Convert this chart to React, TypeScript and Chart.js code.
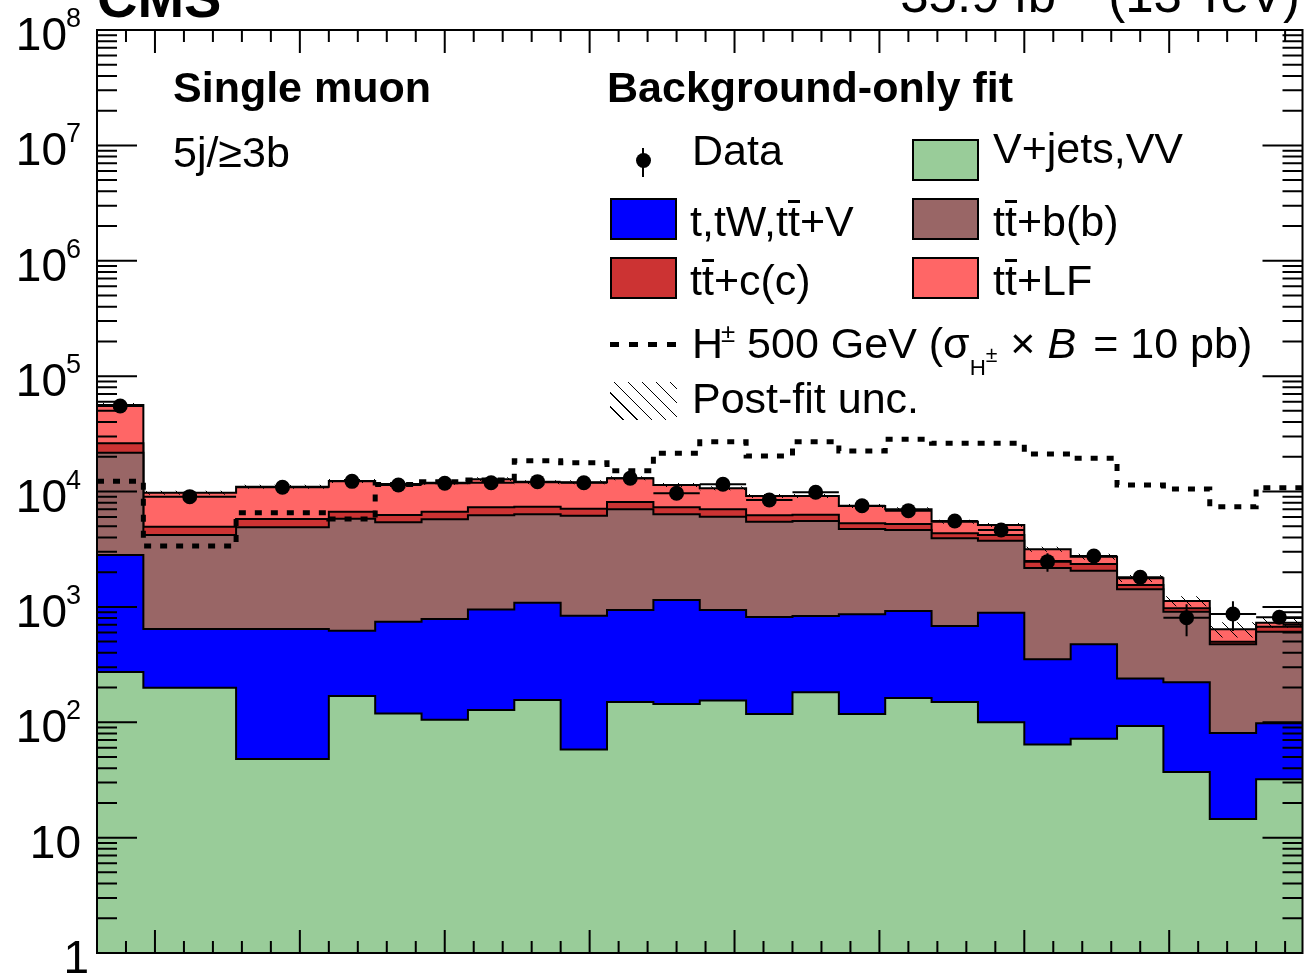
import React, { useEffect, useRef } from 'react';
import { Chart, registerables } from 'chart.js';

Chart.register(...registerables);

const FONT = '"Liberation Sans", Arial, Helvetica, sans-serif';

// ---------------- data ----------------
const binEdges = [160, 192, 256, 320, 352, 384, 416, 448, 480, 512, 544, 576, 608, 640, 672, 704, 736, 768, 800, 832, 864, 896, 928, 960, 992];

const vJetsVV = [272, 199, 48, 169, 119, 105, 128, 156, 58, 150, 144, 154, 118, 182, 118, 162, 150, 100, 64, 72, 93, 37, 14.5, 32];
const singleTop = [2545, 444, 595, 452, 625, 680, 822, 931, 781, 790, 1003, 786, 699, 652, 744, 758, 533, 790, 288, 402, 147, 185, 66, 66];
const ttbb = [18880, 3555, 4252, 5189, 4666, 4955, 5290, 5253, 5331, 6070, 5193, 5110, 4653, 4716, 3868, 3710, 3247, 2858, 1822, 1585, 1180, 686, 394, 511];
const ttcc = [4460, 757, 882, 873, 843, 943, 1055, 1045, 930, 1100, 955, 960, 750, 746, 570, 597, 411, 450, 325, 293, 127, 64, 25, 64];
const ttlf = [30040, 4807, 5228, 5652, 5363, 5240, 5460, 4629, 4914, 4903, 4089, 3650, 2922, 2846, 2188, 1783, 1131, 927, 657, 371, 221, 153, 140, 56];

const dataCounts = [55100, 9020, 10870, 12250, 11380, 11780, 11920, 12170, 11920, 13010, 9650, 11545, 8440, 9840, 7530, 6820, 5550, 4640, 2465, 2760, 1804, 806, 867, 812];
const dataErrors = [900, 300, 330, 350, 340, 345, 345, 350, 345, 365, 310, 340, 290, 315, 275, 260, 235, 215, 450, 300, 200, 250, 250, 100];

const hplus500 = [12300, 3370, 6550, 5780, 11500, 12160, 12580, 18490, 17770, 15140, 21430, 27030, 20320, 27030, 22440, 28330, 26160, 26160, 21130, 19400, 11390, 10510, 7390, 10790];

const postFitRelUnc = [0.04, 0.04, 0.04, 0.04, 0.04, 0.04, 0.04, 0.04, 0.04, 0.04, 0.04, 0.04, 0.04, 0.04, 0.04, 0.04, 0.04, 0.04, 0.05, 0.06, 0.07, 0.1, 0.15, 0.1];

const yExponents = [0, 1, 2, 3, 4, 5, 6, 7, 8];
const yMinorMultipliers = [2, 3, 4, 5, 6, 7, 8, 9];
const xMajorTicks = [200, 300, 400, 500, 600, 700, 800, 900];
const xMinorTicks = [180, 220, 240, 260, 280, 320, 340, 360, 380, 420, 440, 460, 480, 520, 540, 560, 580, 620, 640, 660, 680, 720, 740, 760, 780, 820, 840, 860, 880, 920, 940, 960, 980];

// ---------------- helpers ----------------
function stepSeries(values: number[]) {
  const pts = values.map((v, i) => ({ x: binEdges[i], y: v }));
  pts.push({ x: binEdges[binEdges.length - 1], y: values[values.length - 1] });
  return pts;
}
function cumulate(...arrs: number[][]) {
  return arrs[0].map((_, i) => arrs.reduce((s, a) => s + a[i], 0));
}

const cumV = cumulate(vJetsVV);
const cumT = cumulate(vJetsVV, singleTop);
const cumB = cumulate(vJetsVV, singleTop, ttbb);
const cumC = cumulate(vJetsVV, singleTop, ttbb, ttcc);
const total = cumulate(vJetsVV, singleTop, ttbb, ttcc, ttlf);
const uncUp = total.map((t, i) => t * (1 + postFitRelUnc[i]));
const uncDown = total.map((t, i) => t * (1 - postFitRelUnc[i]));
const binCenters = dataCounts.map((_, i) => (binEdges[i] + binEdges[i + 1]) / 2);

function makeHatch(): CanvasPattern | string {
  const c = document.createElement('canvas');
  const s = 15;
  c.width = s;
  c.height = s;
  const g = c.getContext('2d');
  if (!g) return 'rgba(0,0,0,0)';
  g.strokeStyle = '#000';
  g.lineWidth = 1;
  g.beginPath();
  g.moveTo(-1, -1);
  g.lineTo(s + 1, s + 1);
  g.moveTo(s - 1, -1);
  g.lineTo(s + 1, 1);
  g.moveTo(-1, s - 1);
  g.lineTo(1, s + 1);
  g.stroke();
  return g.createPattern(c, 'repeat') || 'rgba(0,0,0,0)';
}

const rootAxesPlugin = {
  id: 'rootAxes',
  afterDatasetsDraw(chart: any) {
    const { ctx, chartArea: a, scales } = chart;
    const xs = scales.x;
    const ys = scales.y;
    ctx.save();
    ctx.strokeStyle = '#000';
    ctx.lineWidth = 2;
    // data error bars
    dataCounts.forEach((v, i) => {
      const x0 = xs.getPixelForValue(binEdges[i]);
      const x1 = xs.getPixelForValue(binEdges[i + 1]);
      const cx = xs.getPixelForValue(binCenters[i]);
      const py = ys.getPixelForValue(v);
      ctx.beginPath();
      ctx.moveTo(x0, py);
      ctx.lineTo(x1, py);
      ctx.moveTo(cx, ys.getPixelForValue(v + dataErrors[i]));
      ctx.lineTo(cx, ys.getPixelForValue(v - dataErrors[i]));
      ctx.stroke();
    });
    // frame
    ctx.strokeRect(a.left, a.top, a.right - a.left, a.bottom - a.top);
    // y ticks
    ctx.beginPath();
    yExponents.forEach((e) => {
      const base = Math.pow(10, e);
      const py = ys.getPixelForValue(base);
      ctx.moveTo(a.left, py);
      ctx.lineTo(a.left + 40, py);
      ctx.moveTo(a.right - 40, py);
      ctx.lineTo(a.right, py);
      if (e < 8) {
        yMinorMultipliers.forEach((m) => {
          const pm = ys.getPixelForValue(m * base);
          ctx.moveTo(a.left, pm);
          ctx.lineTo(a.left + 20, pm);
          ctx.moveTo(a.right - 20, pm);
          ctx.lineTo(a.right, pm);
        });
      }
    });
    // x ticks
    xMajorTicks.forEach((t) => {
      const px = xs.getPixelForValue(t);
      ctx.moveTo(px, a.bottom);
      ctx.lineTo(px, a.bottom - 23);
      ctx.moveTo(px, a.top);
      ctx.lineTo(px, a.top + 23);
    });
    xMinorTicks.forEach((t) => {
      const px = xs.getPixelForValue(t);
      ctx.moveTo(px, a.bottom);
      ctx.lineTo(px, a.bottom - 12);
      ctx.moveTo(px, a.top);
      ctx.lineTo(px, a.top + 12);
    });
    ctx.stroke();
    // y labels
    ctx.fillStyle = '#000';
    ctx.textBaseline = 'alphabetic';
    const right = 81;
    yExponents.forEach((e) => {
      const py = ys.getPixelForValue(Math.pow(10, e));
      if (e === 0) {
        ctx.font = `46px ${FONT}`;
        ctx.textAlign = 'right';
        ctx.fillText('1', right + 8, py + 20);
      } else if (e === 1) {
        ctx.font = `46px ${FONT}`;
        ctx.textAlign = 'right';
        ctx.fillText('10', right, py + 20);
      } else {
        ctx.font = `27px ${FONT}`;
        const w = ctx.measureText(String(e)).width;
        ctx.textAlign = 'left';
        ctx.fillText(String(e), right - w, py - 3);
        ctx.font = `46px ${FONT}`;
        ctx.textAlign = 'right';
        ctx.fillText('10', right - w + 1, py + 20);
      }
    });
    ctx.restore();
  },
};

// ---------------- overlay text ----------------
type TxtProps = { x: number; base: number; size?: number; bold?: boolean; right?: boolean; children: React.ReactNode };
function Txt({ x, base, size = 43, bold = false, right = false, children }: TxtProps) {
  const style: React.CSSProperties = {
    position: 'absolute',
    top: base - 0.8465 * size,
    fontSize: size,
    lineHeight: 1,
    fontWeight: bold ? 'bold' : 'normal',
    whiteSpace: 'nowrap',
    color: '#000',
    fontFamily: FONT,
  };
  if (right) style.right = 1304 - x;
  else style.left = x;
  return <div style={style}>{children}</div>;
}

function TBar() {
  return (
    <span style={{ position: 'relative', display: 'inline-block' }}>
      t
      <span style={{ position: 'absolute', left: '0.01em', width: '0.26em', top: '0.02em', height: '0.065em', background: '#000' }} />
    </span>
  );
}

function Box({ x, y, color }: { x: number; y: number; color: string }) {
  return (
    <div
      style={{
        position: 'absolute',
        left: x,
        top: y,
        width: 67,
        height: 42,
        boxSizing: 'border-box',
        border: '2px solid #000',
        background: color,
      }}
    />
  );
}

const colors = {
  vjets: '#99cc99',
  single: '#0000ff',
  ttbb: '#996666',
  ttcc: '#cc3333',
  ttlf: '#ff6666',
};

export default function App() {
  const ref = useRef<HTMLCanvasElement>(null);

  useEffect(() => {
    const canvas = ref.current;
    if (!canvas) return;
    const hatch = makeHatch();
    const stackDs = (values: number[], color: string, order: number) => ({
      type: 'line' as const,
      data: stepSeries(values),
      stepped: true,
      fill: 'start',
      backgroundColor: color,
      borderColor: '#000',
      borderWidth: 2,
      pointRadius: 0,
      pointHitRadius: 0,
      order,
    });
    const chart = new Chart(canvas, {
      type: 'line',
      data: {
        datasets: [
          {
            type: 'scatter',
            data: dataCounts.map((v, i) => ({ x: binCenters[i], y: v })),
            pointRadius: 7.5,
            pointBackgroundColor: '#000',
            pointBorderWidth: 0,
            borderColor: '#000',
            order: 0,
          } as any,
          {
            type: 'line',
            data: stepSeries(hplus500),
            stepped: true,
            fill: false,
            borderColor: '#000',
            borderWidth: 5,
            borderDash: [7, 9],
            borderCapStyle: 'butt',
            pointRadius: 0,
            order: 1,
          } as any,
          {
            type: 'line',
            data: stepSeries(uncUp),
            stepped: true,
            fill: '+1',
            backgroundColor: hatch,
            borderWidth: 0,
            pointRadius: 0,
            order: 2,
          } as any,
          {
            type: 'line',
            data: stepSeries(uncDown),
            stepped: true,
            fill: false,
            borderWidth: 0,
            pointRadius: 0,
            order: 3,
          } as any,
          stackDs(cumV, colors.vjets, 4) as any,
          stackDs(cumT, colors.single, 5) as any,
          stackDs(cumB, colors.ttbb, 6) as any,
          stackDs(cumC, colors.ttcc, 7) as any,
          stackDs(total, colors.ttlf, 8) as any,
        ],
      },
      options: {
        responsive: false,
        maintainAspectRatio: false,
        animation: false,
        devicePixelRatio: 1,
        events: [],
        layout: { padding: { left: 97, top: 30, right: 1310 - 1305, bottom: 973 - 953 } },
        plugins: { legend: { display: false }, tooltip: { enabled: false }, title: { display: false } },
        scales: {
          x: { type: 'linear', min: 160, max: 992, display: false },
          y: { type: 'logarithmic', min: 1, max: 1e8, display: false },
        },
      } as any,
      plugins: [rootAxesPlugin],
    });
    return () => chart.destroy();
  }, []);

  const dash = (x: number) => (
    <div key={x} style={{ position: 'absolute', left: x, top: 342, width: 9, height: 5, background: '#000' }} />
  );

  return (
    <div
      style={{
        position: 'fixed',
        left: 0,
        top: 0,
        width: 1304,
        height: 973,
        overflow: 'hidden',
        background: '#fff',
        fontFamily: FONT,
      }}
    >
      <canvas ref={ref} width={1310} height={973} style={{ position: 'absolute', left: 0, top: 0, width: 1310, height: 973 }} />

      {/* header */}
      <Txt x={97} base={17} size={56} bold>
        CMS
      </Txt>
      <Txt x={1300} base={12} size={51} right>
        35.9 fb
        <span style={{ fontSize: '0.65em', position: 'relative', top: '-0.75em' }}>−1</span> (13 TeV)
      </Txt>

      {/* channel labels */}
      <Txt x={173} base={102} bold>
        Single muon
      </Txt>
      <Txt x={173} base={167}>
        5j/≥3b
      </Txt>

      {/* legend */}
      <Txt x={607} base={102} bold>
        Background-only fit
      </Txt>

      <div style={{ position: 'absolute', left: 642, top: 148, width: 2, height: 29, background: '#000' }} />
      <div style={{ position: 'absolute', left: 635.5, top: 152.5, width: 15, height: 15, borderRadius: '50%', background: '#000' }} />
      <Txt x={692} base={165}>
        Data
      </Txt>

      <Box x={912} y={139} color={colors.vjets} />
      <Txt x={993} base={163}>
        V+jets,VV
      </Txt>

      <Box x={610} y={198} color={colors.single} />
      <Txt x={690} base={236}>
        t,tW,t<TBar />+V
      </Txt>

      <Box x={912} y={198} color={colors.ttbb} />
      <Txt x={993} base={236}>
        t<TBar />+b(b)
      </Txt>

      <Box x={610} y={257} color={colors.ttcc} />
      <Txt x={690} base={295}>
        t<TBar />+c(c)
      </Txt>

      <Box x={912} y={257} color={colors.ttlf} />
      <Txt x={993} base={295}>
        t<TBar />+LF
      </Txt>

      {[610, 629, 648, 667].map(dash)}
      <Txt x={692} base={358}>
        H<span style={{ fontSize: '0.6em', position: 'relative', top: '-0.62em', marginLeft: '-0.08em' }}>±</span> 500 GeV (σ
        <span style={{ fontSize: '0.52em', position: 'relative', top: '0.8em' }}>
          H<span style={{ fontSize: '0.95em', position: 'relative', top: '-0.62em' }}>±</span>
        </span>
        <span style={{ marginLeft: '0.3em' }}>×</span> <i>B</i>
        <span style={{ marginLeft: '0.12em' }}> = 10 pb)</span>
      </Txt>

      <div
        style={{
          position: 'absolute',
          left: 610,
          top: 382,
          width: 67,
          height: 38,
          background: 'repeating-linear-gradient(45deg, rgba(0,0,0,0) 0px, rgba(0,0,0,0) 9px, #000 9px, #000 10px)',
        }}
      />
      <Txt x={692} base={413}>
        Post-fit unc.
      </Txt>
    </div>
  );
}
